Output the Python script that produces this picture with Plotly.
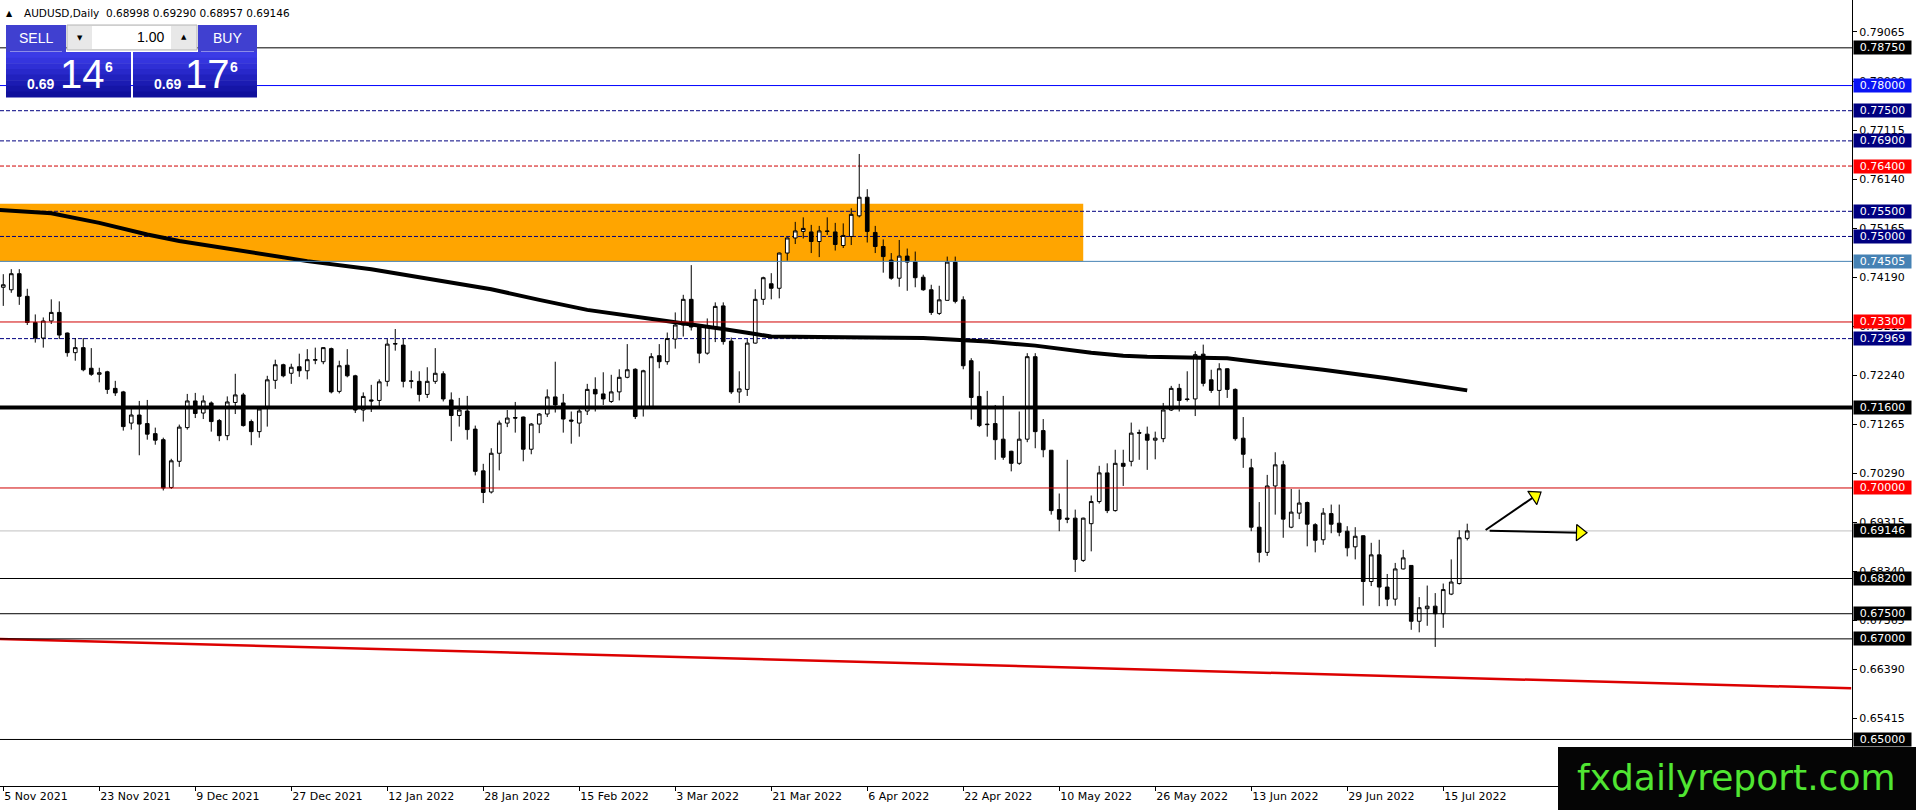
import pandas as pd
import plotly.graph_objects as go

# AUDUSD daily candles, 5 Nov 2021 .. 20 Jul 2022
dates = pd.bdate_range("2021-11-05", periods=184)

opens = [
    0.7399, 0.7394, 0.7426, 0.7381, 0.7329, 0.7298, 0.7332, 0.7349, 0.7308, 0.7269,
    0.7279, 0.7238, 0.7226, 0.7231, 0.7198, 0.7191, 0.7129, 0.7145, 0.7128, 0.7108,
    0.7096, 0.7001, 0.7053, 0.7120, 0.7173, 0.7149, 0.7169, 0.7134, 0.7104, 0.7170,
    0.7185, 0.7132, 0.7112, 0.7162, 0.7214, 0.7245, 0.7228, 0.7241, 0.7233, 0.7254,
    0.7251, 0.7277, 0.7192, 0.7244, 0.7223, 0.7155, 0.7175, 0.7174, 0.7212, 0.7286,
    0.7284, 0.7212, 0.7212, 0.7186, 0.7212, 0.7227, 0.7175, 0.7144, 0.7153, 0.7117,
    0.7034, 0.6992, 0.7069, 0.7129, 0.7140, 0.7141, 0.7077, 0.7127, 0.7147, 0.7181,
    0.7169, 0.7135, 0.7129, 0.7153, 0.7196, 0.7187, 0.7172, 0.7191, 0.7220, 0.7236,
    0.7162, 0.7162, 0.7263, 0.7251, 0.7296, 0.7324, 0.7375, 0.7321, 0.7268, 0.7318,
    0.7362, 0.7292, 0.7191, 0.7196, 0.7288, 0.7375, 0.7406, 0.7397, 0.7467, 0.7497,
    0.7510, 0.7509, 0.7490, 0.7511, 0.7509, 0.7482, 0.7500, 0.7541, 0.7578, 0.7508,
    0.7480, 0.7453, 0.7417, 0.7461, 0.7450, 0.7419, 0.7394, 0.7347, 0.7373, 0.7449,
    0.7374, 0.7253, 0.7182, 0.7127, 0.7128, 0.7097, 0.7073, 0.7049, 0.7097, 0.7261,
    0.7114, 0.7075, 0.6957, 0.6940, 0.6940, 0.6856, 0.6929, 0.6973, 0.7030, 0.6955,
    0.7049, 0.7053, 0.7110, 0.7107, 0.7095, 0.7098, 0.7155, 0.7198, 0.7177, 0.7177,
    0.7266, 0.7215, 0.7194, 0.7237, 0.7196, 0.7099, 0.7040, 0.6922, 0.6872, 0.7004,
    0.7046, 0.6922, 0.6950, 0.6971, 0.6927, 0.6897, 0.6949, 0.6930, 0.6914, 0.6883,
    0.6905, 0.6814, 0.6867, 0.6803, 0.6779, 0.6839, 0.6846, 0.6735, 0.6760, 0.6765,
    0.6750, 0.6789, 0.6810, 0.68998,
]
highs = [
    0.7425, 0.7435, 0.7435, 0.7396, 0.7345, 0.7339, 0.7375, 0.7371, 0.7309, 0.7298,
    0.7298, 0.7278, 0.7239, 0.7233, 0.7213, 0.7193, 0.7162, 0.7173, 0.7175, 0.7120,
    0.7100, 0.7058, 0.7126, 0.7187, 0.7189, 0.7184, 0.7172, 0.7137, 0.7182, 0.7227,
    0.7189, 0.7136, 0.7162, 0.7223, 0.7255, 0.7247, 0.7247, 0.7267, 0.7276, 0.7279,
    0.7280, 0.7279, 0.7253, 0.7276, 0.7225, 0.7190, 0.7205, 0.7216, 0.7296, 0.7316,
    0.7296, 0.7233, 0.7232, 0.7240, 0.7278, 0.7232, 0.7190, 0.7179, 0.7183, 0.7124,
    0.7048, 0.7079, 0.7134, 0.7155, 0.7171, 0.7142, 0.7129, 0.7149, 0.7196, 0.7251,
    0.7187, 0.7152, 0.7159, 0.7207, 0.7220, 0.7230, 0.7225, 0.7236, 0.7286, 0.7238,
    0.7235, 0.7268, 0.7286, 0.7309, 0.7349, 0.7384, 0.7443, 0.7324, 0.7337, 0.7369,
    0.7369, 0.7299, 0.7232, 0.7296, 0.7395, 0.7420, 0.7427, 0.7468, 0.7498, 0.7529,
    0.7538, 0.7523, 0.7521, 0.7538, 0.7527, 0.7526, 0.7556, 0.7664, 0.7594, 0.7521,
    0.7494, 0.7467, 0.7493, 0.7476, 0.7470, 0.7424, 0.7404, 0.7402, 0.7460, 0.7460,
    0.7381, 0.7258, 0.7232, 0.7193, 0.7165, 0.7183, 0.7074, 0.7152, 0.7268, 0.7268,
    0.7137, 0.7075, 0.6989, 0.7056, 0.6957, 0.6941, 0.6985, 0.7044, 0.7049, 0.7076,
    0.7076, 0.7130, 0.7116, 0.7122, 0.7112, 0.7169, 0.7203, 0.7207, 0.7232, 0.7272,
    0.7285, 0.7235, 0.7248, 0.7238, 0.7198, 0.7141, 0.7058, 0.6972, 0.7026, 0.7071,
    0.7054, 0.6998, 0.6997, 0.6973, 0.6930, 0.6960, 0.6967, 0.6967, 0.6924, 0.6922,
    0.6906, 0.6891, 0.6897, 0.6829, 0.6851, 0.6877, 0.6846, 0.6783, 0.6806, 0.6791,
    0.6810, 0.6858, 0.6916, 0.69290,
]
lows = [
    0.7362, 0.7388, 0.7364, 0.7324, 0.7289, 0.7279, 0.7326, 0.7296, 0.7261, 0.7253,
    0.7232, 0.7223, 0.7210, 0.7187, 0.7183, 0.7114, 0.7116, 0.7065, 0.7096, 0.7086,
    0.6995, 0.6998, 0.7042, 0.7116, 0.7139, 0.7137, 0.7112, 0.7093, 0.7095, 0.7147,
    0.7122, 0.7085, 0.7100, 0.7122, 0.7197, 0.7220, 0.7207, 0.7221, 0.7216, 0.7246,
    0.7246, 0.7188, 0.7188, 0.7220, 0.7149, 0.7132, 0.7151, 0.7163, 0.7202, 0.7273,
    0.7200, 0.7198, 0.7172, 0.7179, 0.7207, 0.7172, 0.7093, 0.7122, 0.7096, 0.7025,
    0.6970, 0.6989, 0.7035, 0.7121, 0.7110, 0.7053, 0.7067, 0.7109, 0.7141, 0.7150,
    0.7110, 0.7088, 0.7102, 0.7145, 0.7152, 0.7165, 0.7169, 0.7174, 0.7218, 0.7137,
    0.7142, 0.7160, 0.7238, 0.7245, 0.7277, 0.7301, 0.7313, 0.7248, 0.7265, 0.7290,
    0.7285, 0.7187, 0.7169, 0.7183, 0.7287, 0.7364, 0.7375, 0.7377, 0.7452, 0.7485,
    0.7496, 0.7467, 0.7459, 0.7503, 0.7472, 0.7477, 0.7483, 0.7538, 0.7488, 0.7467,
    0.7428, 0.7414, 0.7400, 0.7392, 0.7399, 0.7392, 0.7344, 0.7344, 0.7373, 0.7367,
    0.7236, 0.7136, 0.7121, 0.7102, 0.7056, 0.7056, 0.7033, 0.7046, 0.7091, 0.7079,
    0.7061, 0.6947, 0.6914, 0.6930, 0.6833, 0.6853, 0.6874, 0.6969, 0.6950, 0.6953,
    0.7004, 0.7043, 0.7056, 0.7036, 0.7057, 0.7091, 0.7153, 0.7152, 0.7172, 0.7143,
    0.7202, 0.7189, 0.7163, 0.7179, 0.7094, 0.7040, 0.6914, 0.6852, 0.6865, 0.6947,
    0.6901, 0.6920, 0.6938, 0.6884, 0.6872, 0.6887, 0.6910, 0.6904, 0.6864, 0.6858,
    0.6766, 0.6805, 0.6765, 0.6765, 0.6766, 0.6838, 0.6718, 0.6713, 0.6726, 0.6684,
    0.6722, 0.6787, 0.6808, 0.68957,
]
closes = [
    0.7404, 0.7426, 0.7381, 0.7329, 0.7298, 0.7332, 0.7349, 0.7304, 0.7269, 0.7279,
    0.7235, 0.7226, 0.7229, 0.7196, 0.7189, 0.7122, 0.7145, 0.7127, 0.7107, 0.7095,
    0.7000, 0.7054, 0.7121, 0.7173, 0.7148, 0.7173, 0.7132, 0.7104, 0.7171, 0.7185,
    0.7124, 0.7112, 0.7157, 0.7215, 0.7245, 0.7223, 0.7240, 0.7233, 0.7255, 0.7255,
    0.7279, 0.7191, 0.7243, 0.7223, 0.7155, 0.7182, 0.7173, 0.7211, 0.7286, 0.7287,
    0.7212, 0.7213, 0.7186, 0.7212, 0.7228, 0.7177, 0.7144, 0.7155, 0.7116, 0.7033,
    0.6991, 0.7069, 0.7129, 0.7139, 0.7139, 0.7077, 0.7127, 0.7147, 0.7181, 0.7165,
    0.7137, 0.7133, 0.7153, 0.7196, 0.7187, 0.7177, 0.7191, 0.7220, 0.7235, 0.7142,
    0.7233, 0.7261, 0.7251, 0.7297, 0.7324, 0.7375, 0.7320, 0.7268, 0.7321, 0.7361,
    0.7291, 0.7191, 0.7197, 0.7288, 0.7375, 0.7418, 0.7397, 0.7467, 0.7497, 0.7511,
    0.7516, 0.7490, 0.7511, 0.7510, 0.7484, 0.7502, 0.7544, 0.7578, 0.7510, 0.7480,
    0.7460, 0.7417, 0.7461, 0.7449, 0.7418, 0.7394, 0.7349, 0.7374, 0.7449, 0.7371,
    0.7243, 0.7180, 0.7124, 0.7126, 0.7096, 0.7061, 0.7049, 0.7097, 0.7261, 0.7112,
    0.7076, 0.6955, 0.6938, 0.6938, 0.6858, 0.6940, 0.6973, 0.7030, 0.6955, 0.7049,
    0.7043, 0.7109, 0.7109, 0.7095, 0.7099, 0.7155, 0.7198, 0.7174, 0.7176, 0.7265,
    0.7208, 0.7194, 0.7237, 0.7196, 0.7098, 0.7067, 0.6922, 0.6872, 0.7004, 0.7046,
    0.6938, 0.6952, 0.6970, 0.6928, 0.6896, 0.6950, 0.6928, 0.6912, 0.6881, 0.6904,
    0.6814, 0.6867, 0.6803, 0.6779, 0.6839, 0.6861, 0.6735, 0.6762, 0.6765, 0.6750,
    0.6798, 0.6813, 0.6901, 0.69146,
]

# bottom time scale
tick_bars = [0, 12, 24, 36, 48, 60, 72, 84, 96, 108, 120, 132, 144, 156, 168, 180]
tick_labels = ["5 Nov 2021", "23 Nov 2021", "9 Dec 2021", "27 Dec 2021", "12 Jan 2022",
               "28 Jan 2022", "15 Feb 2022", "3 Mar 2022", "21 Mar 2022", "6 Apr 2022",
               "22 Apr 2022", "10 May 2022", "26 May 2022", "13 Jun 2022", "29 Jun 2022",
               "15 Jul 2022"]

# right price scale
price_ticks = [0.79065, 0.78090, 0.77115, 0.76140, 0.75165, 0.74190, 0.73215, 0.72240,
               0.71265, 0.70290, 0.69315, 0.68340, 0.67365, 0.66390, 0.65415]

# moving average (read at a few bars)
ma_bars = [-1, 6, 12, 18, 22, 30, 38, 46, 55, 61, 67, 73, 82, 86, 90, 94, 96, 102,
           112, 115, 123, 129, 136, 140, 143, 149, 153, 157, 165, 173, 180, 183]
ma_values = [0.7553, 0.7546, 0.7527, 0.7504, 0.7491, 0.7470, 0.7451, 0.7435, 0.7412,
             0.7395, 0.7374, 0.7354, 0.7334, 0.7326, 0.7316, 0.7306, 0.7301, 0.7300,
             0.7298, 0.7298, 0.7291, 0.7283, 0.7269, 0.7263, 0.7261, 0.7259, 0.7258,
             0.7250, 0.7235, 0.7218, 0.7202, 0.7194]

# drawn objects
levels = [0.7875, 0.7800, 0.7750, 0.7690, 0.7640, 0.7550, 0.7500, 0.74505, 0.7330,
          0.72969, 0.7160, 0.7000, 0.6820, 0.6750, 0.6700, 0.6500]
bid_price = 0.69146
zone_bars = [-5, 135]
zone_prices = [0.74505, 0.7565]
trend_bars = [-1, 231]
trend_prices = [0.6700, 0.66017]
arrow_tail_bars = [185.3, 185.8]
arrow_tail_prices = [0.69165, 0.69151]
arrow_head_bars = [191.5, 197.1]
arrow_head_prices = [0.6984, 0.69111]

# styles: colour, dash, width, label box colour
NAVY = "#000080"
RED = "#D00000"
DASH = "4px,2px"
level_style = {
    0.7875: ("black", "solid", 1, "black"),
    0.7800: ("#0000FF", "solid", 1, "#0A14F5"),
    0.7750: (NAVY, DASH, 1, NAVY),
    0.7690: (NAVY, DASH, 1, NAVY),
    0.7640: (RED, DASH, 1, "#FF0000"),
    0.7550: (NAVY, DASH, 1, NAVY),
    0.7500: (NAVY, DASH, 1, NAVY),
    0.74505: ("#4682B4", "solid", 1, "#4682B4"),
    0.7330: (RED, "solid", 1, "#FF0000"),
    0.72969: (NAVY, DASH, 1, NAVY),
    0.7160: ("black", "solid", 4, "black"),
    0.7000: (RED, "solid", 1, "#FF0000"),
    0.6820: ("black", "solid", 1, "black"),
    0.6750: ("black", "solid", 1, "black"),
    0.6700: ("black", "solid", 1, "black"),
    0.6500: ("black", "solid", 1, "black"),
}

W, H = 1916, 810
PW, PH = 1852, 786        # plot area in pixels
X_RANGE = [-0.41, 231.1]
Y_RANGE = [0.64075, 0.79701]
FONT = "DejaVu Sans"


def px(x):
    return x / PW


def py(y):
    return 1 - y / PH


bars = list(range(len(opens)))

fig = go.Figure()

fig.add_trace(go.Candlestick(
    x=bars, open=opens, high=highs, low=lows, close=closes,
    text=[d.strftime("%d %b %Y") for d in dates],
    increasing=dict(line=dict(color="black", width=1), fillcolor="white"),
    decreasing=dict(line=dict(color="black", width=1), fillcolor="black"),
    whiskerwidth=0, showlegend=False, hoverinfo="skip"))

fig.add_trace(go.Scatter(x=ma_bars, y=ma_values, mode="lines",
                         line=dict(color="black", width=4), hoverinfo="skip",
                         showlegend=False))

fig.add_trace(go.Scatter(x=trend_bars, y=trend_prices, mode="lines",
                         line=dict(color="#DC0000", width=2.5), hoverinfo="skip",
                         showlegend=False))

# yellow arrows: black shaft + yellow head
for i in range(len(arrow_tail_bars)):
    fig.add_trace(go.Scatter(
        x=[arrow_tail_bars[i], arrow_head_bars[i]],
        y=[arrow_tail_prices[i], arrow_head_prices[i]],
        mode="lines", line=dict(color="black", width=2),
        hoverinfo="skip", showlegend=False))
angles = [-34, 1.3]
fig.add_trace(go.Scatter(
    x=arrow_head_bars, y=arrow_head_prices, mode="markers",
    marker=dict(symbol="triangle-right", size=14, color="#FFFF00", angle=angles,
                line=dict(color="black", width=1.2)),
    hoverinfo="skip", showlegend=False))

shapes = []
shapes.append(dict(type="rect", xref="x", yref="y", x0=zone_bars[0], x1=zone_bars[1],
                   y0=zone_prices[0], y1=zone_prices[1], fillcolor="#FFA500",
                   line=dict(width=0), layer="below"))

shapes.append(dict(type="line", xref="x", yref="y", x0=X_RANGE[0], x1=X_RANGE[1],
                   y0=bid_price, y1=bid_price,
                   line=dict(color="#C0C0C0", width=1), layer="below"))
for lv in levels:
    col, dash, wid, _ = level_style[lv]
    # dashed levels sit behind the price (over the zone), solid ones in front of it
    shapes.append(dict(type="line", xref="x", yref="y", x0=X_RANGE[0], x1=X_RANGE[1],
                       y0=lv, y1=lv, line=dict(color=col, width=wid, dash=dash),
                       layer="below" if dash == DASH else "above"))


def rect(x0, y0, x1, y1, fill, line=None):
    shapes.append(dict(type="rect", xref="paper", yref="paper",
                       x0=px(x0), x1=px(x1), y0=py(y1), y1=py(y0),
                       fillcolor=fill, layer="above",
                       line=dict(width=1 if line else 0, color=line or fill)))


# one-click trading panel
rect(6, 25, 66, 52, "#4040D0")
rect(198, 25, 257, 52, "#4040D0")
rect(10, 51, 62, 52, "#8C8CE8")
rect(201, 51, 254, 52, "#8C8CE8")
rect(67, 25, 197, 50, "#E8E8E8", "#B4B4B4")
rect(92, 26, 171, 49, "white")
grad = ["#3B3BE6", "#3535DE", "#2F2FD5", "#2828CA", "#2121BE", "#1B1BB2", "#1515A6", "#10109C"]
band = 45 / len(grad)
for j, c in enumerate(grad):
    rect(6, 52 + j * band, 131, 52 + (j + 1) * band + 0.5, c)
    rect(133, 52 + j * band, 257, 52 + (j + 1) * band + 0.5, c)

# watermark box
rect(1558, 747, 1916, 810, "#050505")

annotations = []


def label(x, y, text, size, color="white", family=FONT, anchor="center", bold=False):
    if bold:
        text = "<b>" + text + "</b>"
    annotations.append(dict(xref="paper", yref="paper", x=px(x), y=py(y), text=text,
                            showarrow=False, xanchor=anchor, yanchor="middle",
                            font=dict(family=family, size=size, color=color)))


label(9, 13, "▲", 8, "black")
label(22, 13, "AUDUSD,Daily  0.68998 0.69290 0.68957 0.69146", 10.5, "black",
      anchor="left")
label(36, 38, "SELL", 14, family="Liberation Sans")
label(227, 38, "BUY", 14, family="Liberation Sans")
label(166, 37, "1.00", 14, "black", family="Liberation Sans", anchor="right")
label(80, 38, "▼", 7, "black")
label(184, 37, "▲", 7, "black")
label(40, 84, "0.69", 14, family="Liberation Sans", bold=True)
label(82, 74, "14", 40, family="Liberation Sans")
label(109, 67, "6", 14, family="Liberation Sans", bold=True)
label(167, 84, "0.69", 14, family="Liberation Sans", bold=True)
label(207, 74, "17", 40, family="Liberation Sans")
label(234, 67, "6", 14, family="Liberation Sans", bold=True)
label(1736, 777, "fxdailyreport.com", 36, "#50E632")

# coloured price labels on the right scale
for lv in levels + [bid_price]:
    box = level_style[lv][3] if lv in level_style else "black"
    annotations.append(dict(xref="paper", yref="y", x=1, y=lv, xshift=1, text=f"{lv:.5f}",
                            showarrow=False, xanchor="left", yanchor="middle",
                            width=57, height=13, borderpad=0, bgcolor=box,
                            font=dict(family=FONT, size=11, color="white")))

fig.update_layout(
    width=W, height=H,
    margin=dict(l=0, r=W - PW, t=0, b=H - PH),
    paper_bgcolor="white", plot_bgcolor="white",
    showlegend=False, hovermode=False, boxgap=0.35,
    shapes=shapes, annotations=annotations,
    font=dict(family=FONT, size=11, color="black"),
    xaxis=dict(range=X_RANGE, showgrid=False, zeroline=False,
               showline=True, linecolor="black", linewidth=1,
               ticks="outside", ticklen=4, tickcolor="black",
               tickvals=tick_bars, ticktext=tick_labels,
               ticklabelposition="outside right",
               tickfont=dict(family=FONT, size=11, color="black"),
               rangeslider=dict(visible=False), fixedrange=True),
    yaxis=dict(range=Y_RANGE, side="right", showgrid=False, zeroline=False,
               showline=True, mirror=True, linecolor="black", linewidth=1,
               ticks="outside", ticklen=4, tickcolor="black",
               tickvals=price_ticks, ticktext=[f"{v:.5f}" for v in price_ticks],
               tickfont=dict(family=FONT, size=11, color="black"), fixedrange=True),
)

fig.write_html("out.html", config={"displayModeBar": False},
               post_script="document.body.style.margin='0';"
                           "document.body.style.overflow='hidden';")
